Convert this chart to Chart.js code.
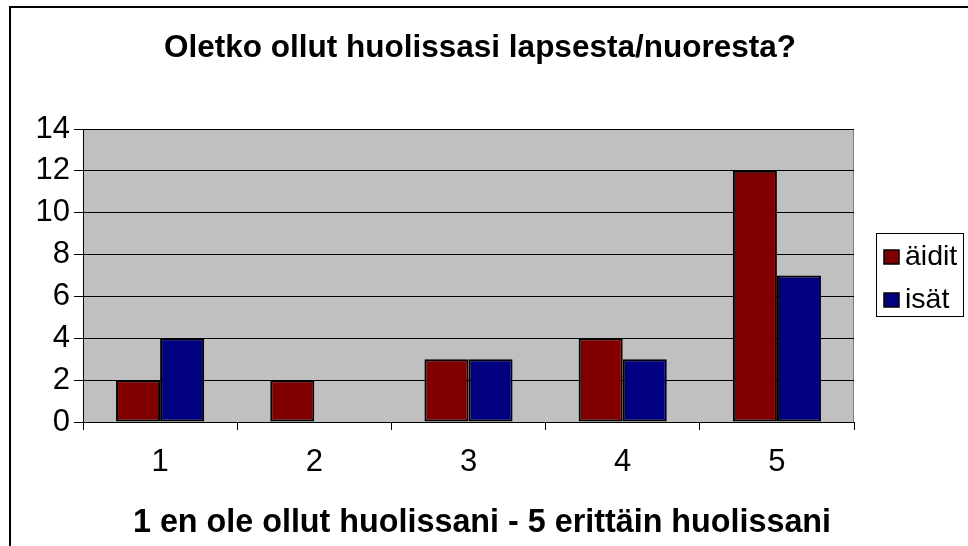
<!DOCTYPE html>
<html>
<head>
<meta charset="utf-8">
<script src="https://cdn.jsdelivr.net/npm/chart.js@4.4.1/dist/chart.umd.min.js"></script>
<style>
html,body{margin:0;padding:0;background:#fff;}
#wrap{width:968px;height:546px;position:relative;}
</style>
</head>
<body>
<div id="wrap"><canvas id="c" width="968" height="546"></canvas></div>
<script>
const chartTitle = "Oletko ollut huolissasi lapsesta/nuoresta?";
const xAxisTitle = "1 en ole ollut huolissani - 5 erittäin huolissani";
const categories = ["1", "2", "3", "4", "5"];
const seriesNames = ["äidit", "isät"];
const aiditValues = [2, 2, 3, 4, 12];
const isatValues = [4, 0, 3, 3, 7];
const yTicks = [0, 2, 4, 6, 8, 10, 12, 14];

const FONT = "'Liberation Sans', Arial, Helvetica, sans-serif";

const framePlugin = {
  id: 'frame',
  beforeDraw(chart) {
    const ctx = chart.ctx;
    const a = chart.chartArea;
    ctx.save();
    ctx.fillStyle = '#ffffff';
    ctx.fillRect(0, 0, chart.width, chart.height);
    ctx.strokeStyle = '#000000';
    ctx.lineWidth = 2;
    ctx.beginPath();
    ctx.moveTo(chart.width, 7);
    ctx.lineTo(10, 7);
    ctx.lineTo(10, chart.height);
    ctx.stroke();
    ctx.fillStyle = '#C0C0C0';
    ctx.fillRect(a.left, a.top, a.right - a.left, a.bottom - a.top);
    ctx.strokeStyle = '#808080';
    ctx.lineWidth = 1;
    ctx.strokeRect(a.left + 0.5, a.top + 0.5, a.right - a.left - 1, a.bottom - a.top);
    ctx.restore();
  },
  afterDraw(chart) {
    const ctx = chart.ctx;
    ctx.save();
    ctx.fillStyle = '#000000';
    ctx.textAlign = 'center';
    ctx.textBaseline = 'middle';
    ctx.font = 'bold 31.5px ' + FONT;
    ctx.fillText(chartTitle, 480, 48);
    ctx.font = 'bold 32.3px ' + FONT;
    ctx.fillText(xAxisTitle, 482, 523);
    // legend
    const lx = 876, ly = 233, lw = 87, lh = 83;
    ctx.fillStyle = '#ffffff';
    ctx.fillRect(lx, ly, lw, lh);
    ctx.strokeStyle = '#000000';
    ctx.lineWidth = 1;
    ctx.strokeRect(lx + 0.5, ly + 0.5, lw, lh);
    const rows = [257, 300];
    chart.data.datasets.forEach((ds, i) => {
      const cy = rows[i];
      ctx.fillStyle = ds.backgroundColor;
      ctx.fillRect(884, cy - 7, 15, 14);
      ctx.strokeStyle = '#000000';
      ctx.lineWidth = 1.5;
      ctx.strokeRect(884, cy - 7, 15, 14);
      ctx.fillStyle = '#000000';
      ctx.textAlign = 'left';
      ctx.textBaseline = 'middle';
      ctx.font = '28.5px ' + FONT;
      ctx.fillText(ds.label, 905, cy);
    });
    ctx.restore();
  }
};

new Chart(document.getElementById('c'), {
  type: 'bar',
  data: {
    labels: categories,
    datasets: [
      { label: seriesNames[0], data: aiditValues, backgroundColor: '#800000', borderColor: '#000000', borderWidth: 2, borderSkipped: false },
      { label: seriesNames[1], data: isatValues, backgroundColor: '#000080', borderColor: '#000000', borderWidth: 2, borderSkipped: false }
    ]
  },
  options: {
    responsive: false,
    animation: false,
    devicePixelRatio: 1,
    layout: { padding: { left: 0, right: 114, top: 129, bottom: 0 } },
    datasets: { bar: { categoryPercentage: 2 / 3.5, barPercentage: 1 } },
    plugins: {
      legend: { display: false },
      title: { display: false },
      tooltip: { enabled: false }
    },
    scales: {
      x: {
        grid: { offset: true, drawOnChartArea: false, drawTicks: true, tickLength: 8, color: '#000000' },
        border: { display: true, color: '#000000', width: 1 },
        ticks: { color: '#000000', font: { family: FONT, size: 31 }, padding: 14, maxRotation: 0 },
        afterFit(scale) { scale.height = 124; }
      },
      y: {
        min: 0, max: 14,
        afterBuildTicks(scale) { scale.ticks = yTicks.map(v => ({ value: v })); },
        grid: { color: '#000000', lineWidth: 1, drawTicks: true, tickLength: 9 },
        border: { display: true, color: '#000000', width: 1 },
        ticks: { color: '#000000', font: { family: FONT, size: 31 }, padding: 4 },
        afterFit(scale) { scale.width = 83; }
      }
    }
  },
  plugins: [framePlugin]
});
</script>
</body>
</html>
